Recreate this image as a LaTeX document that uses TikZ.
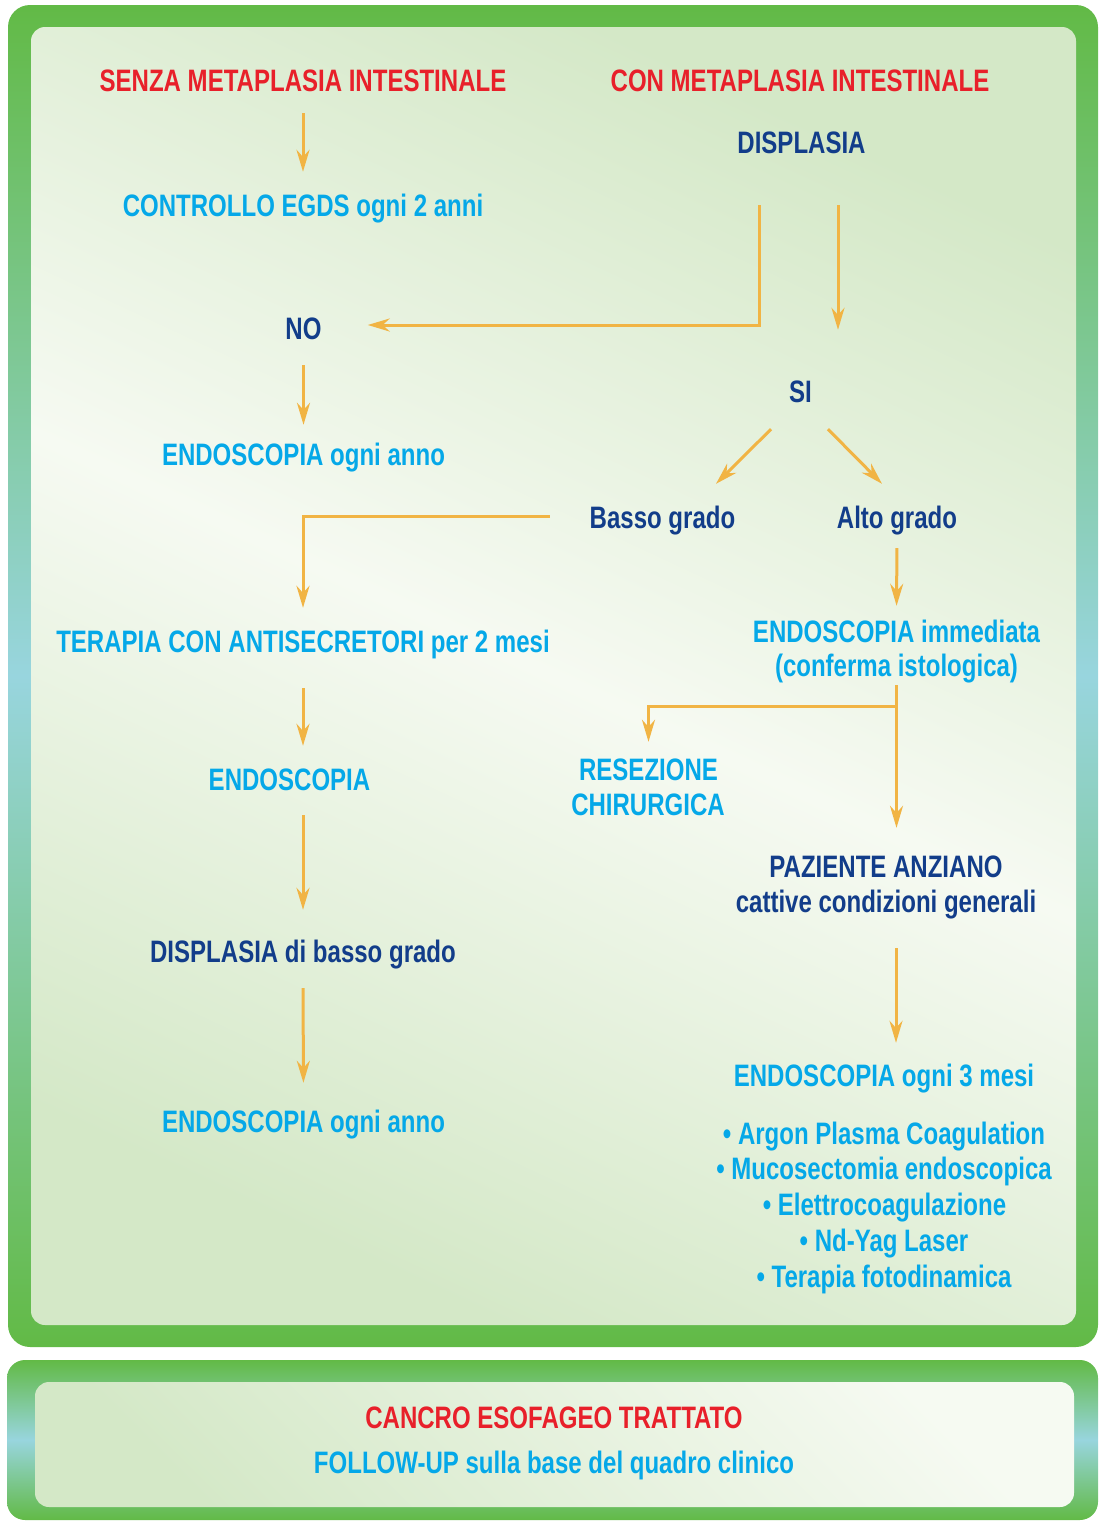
\documentclass[tikz,border=0pt]{standalone}
\usepackage{fontspec}
\setmainfont{Liberation Sans}[FakeStretch=0.775]
\usetikzlibrary{arrows.meta,calc}
\definecolor{fgreen}{HTML}{62BA46}
\definecolor{fblue}{HTML}{98D5DE}
\definecolor{pgreen}{HTML}{D4E8C7}
\definecolor{plight}{HTML}{F6FAF2}
\definecolor{tred}{HTML}{E8202A}
\definecolor{tnavy}{HTML}{123D8A}
\definecolor{tcyan}{HTML}{05A8E8}
\definecolor{arrc}{HTML}{F1B444}
\begin{document}
\begin{tikzpicture}[x=1pt,y=-1pt,
  txt/.style={inner sep=0pt,text height=23pt,text depth=0pt,font=\fontsize{31}{36}\selectfont\bfseries},
  tr/.style={txt,text=tred},
  tn/.style={txt,text=tnavy},
  tc/.style={txt,text=tcyan},
  ln/.style={draw=arrc,line width=3pt},
  arr/.style={ln,-{Stealth[length=22pt,width=13pt]}}]
\useasboundingbox (0,0) rectangle (1104,1521);
% frames
\shade[top color=fgreen,bottom color=fgreen,middle color=fblue,rounded corners=22pt] (8,5) rectangle (1098,1347);
\shade[top color=pgreen,bottom color=pgreen,middle color=plight,shading angle=-25,rounded corners=14pt] (31,27) rectangle (1076,1325);
\shade[top color=fgreen,bottom color=fgreen,middle color=fblue,rounded corners=18pt] (7,1360) rectangle (1098,1520);
\shade[top color=plight,bottom color=pgreen,shading angle=-45,rounded corners=14pt] (35,1382) rectangle (1074,1507);
% texts
\node[tr] (senza) at (303,80) {SENZA METAPLASIA INTESTINALE};
\node[tr] (con) at (800,80) {CON METAPLASIA INTESTINALE};
\node[tn] (displ) at (801.5,142) {DISPLASIA};
\node[tc] (ctrl) at (303,205) {CONTROLLO EGDS ogni 2 anni};
\node[tn] (no) at (303.5,328) {NO};
\node[tn] (si) at (800.5,391) {SI};
\node[tc] (endoA) at (303.5,454) {ENDOSCOPIA ogni anno};
\node[tn] (basso) at (662.5,517) {Basso grado};
\node[tn] (alto) at (897,517) {Alto grado};
\node[tc] (terapia) at (303,641) {TERAPIA CON ANTISECRETORI per 2 mesi};
\node[tc] (imm1) at (896.5,631) {ENDOSCOPIA immediata};
\node[tc] (imm2) at (896.5,665) {(conferma istologica)};
\node[tc] (res1) at (648.5,769) {RESEZIONE};
\node[tc] (res2) at (648,804) {CHIRURGICA};
\node[tc] (endoB) at (289.5,779) {ENDOSCOPIA};
\node[tn] (paz1) at (886,866) {PAZIENTE ANZIANO};
\node[tn] (paz2) at (886,901) {cattive condizioni generali};
\node[tn] (displ2) at (303,951) {DISPLASIA di basso grado};
\node[tc] (endoC) at (884,1075) {ENDOSCOPIA ogni 3 mesi};
\node[tc] (endoD) at (303.5,1121) {ENDOSCOPIA ogni anno};
\node[tc] (b1) at (884,1133) {• Argon Plasma Coagulation};
\node[tc] (b2) at (884,1168) {• Mucosectomia endoscopica};
\node[tc] (b3) at (884.5,1204) {• Elettrocoagulazione};
\node[tc] (b4) at (884,1240) {• Nd-Yag Laser};
\node[tc] (b5) at (884,1276) {• Terapia fotodinamica};
\node[tr] (cancro) at (554,1417) {CANCRO ESOFAGEO TRATTATO};
\node[tc] (follow) at (554,1462) {FOLLOW-UP sulla base del quadro clinico};
% connectors
\draw[arr,shorten <=21.5pt,shorten >=21.5pt] (senza.south) -- (ctrl.north);
\coordinate (d1) at ($(displ.south)+(-42.5,51.5)$);
\coordinate (d2) at ($(displ.south)+(36.5,51.5)$);
\draw[arr,shorten >=46pt] (d1) |- ($(no.east)+(0,-3)$);
\draw[arr,shorten >=49.5pt] (d2) -- (d2 |- si.north);
\draw[arr,shorten <=25.5pt,shorten >=17.5pt] (no.south) -- (endoA.north);
\draw[arr] ($(si.south)+(-29.5,26.5)$) -- ($(basso.north)+(53.5,-21.5)$);
\draw[arr] ($(si.south)+(27.5,26.5)$) -- ($(alto.north)+(-15,-21.5)$);
\draw[arr,shorten >=21.5pt] ($(basso.west)+(-40,-1)$) -| (terapia.north);
\draw[arr,shorten <=19.5pt,shorten >=13.5pt] (alto.south) -- (imm1.north);
\coordinate (br) at ($(imm2.south)+(0,29.5)$);
\draw[arr,shorten <=8.5pt,shorten >=26.5pt] (imm2.south) -- (imm2.south |- paz1.north);
\draw[arr,shorten >=15.5pt] (br) -| (res1.north);
\draw[arr,shorten <=35.5pt,shorten >=21.5pt] (terapia.south) -- (terapia.south |- endoB.north);
\draw[arr,shorten <=24.5pt,shorten >=29.5pt] (displ2.north |- endoB.south) -- (displ2.north);
\draw[arr,shorten <=25.5pt,shorten >=26.5pt] (displ2.south) -- (endoD.north);
\draw[arr] ($(paz2.south)+(10,35.5)$) -- ($(endoC.north)+(12,-20.5)$);
\end{tikzpicture}
\end{document}
